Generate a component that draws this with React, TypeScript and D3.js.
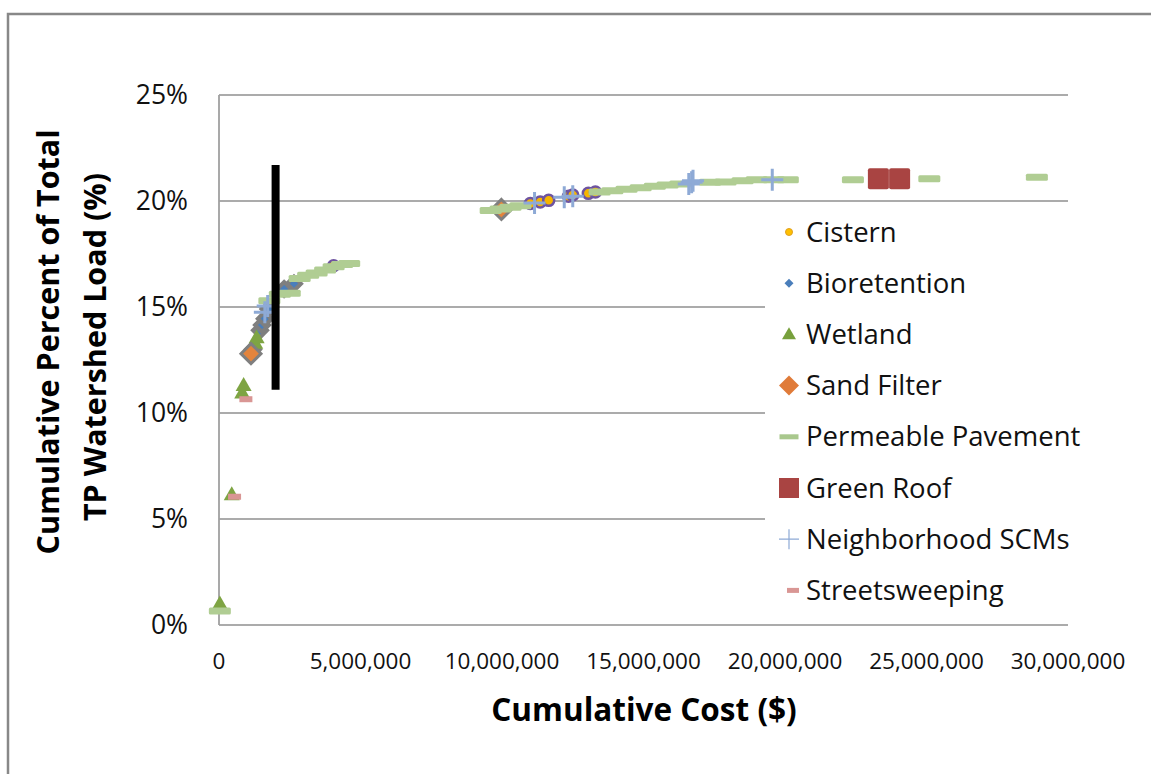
import React from 'react';
import * as d3 from 'd3';

// ---- data (x = cumulative cost $, y = cumulative % of total TP load) ----
const xTicks = [0, 5e6, 10e6, 15e6, 20e6, 25e6, 30e6];
const yTicks = [0, 5, 10, 15, 20, 25];

const cistern: [number, number][] = [
  [4.05e6, 16.95], [11.0e6, 19.88], [11.35e6, 19.95], [11.65e6, 20.03], [12.35e6, 20.22],
  [12.5e6, 20.28], [13.05e6, 20.36], [13.3e6, 20.42],
];
const bioretention: [number, number][] = [
  [1.2e6, 13.0], [1.45e6, 13.9], [1.52e6, 14.15], [1.62e6, 14.45], [1.75e6, 14.9],
  [2.3e6, 15.85], [2.65e6, 16.1],
];
const wetland: [number, number][] = [
  [0.03e6, 1.0], [0.45e6, 6.15], [0.82e6, 10.95], [0.87e6, 11.3], [1.28e6, 13.3], [1.33e6, 13.55],
];
const sandFilter: [number, number][] = [[1.13e6, 12.8], [9.98e6, 19.6]];
const permeablePavement: [number, number][] = [
  [0.03e6, 0.66], [1.78e6, 15.3], [2.15e6, 15.6], [2.5e6, 15.65], [2.85e6, 16.35], [3.15e6, 16.5],
  [3.45e6, 16.6], [3.75e6, 16.75], [4.05e6, 16.9], [4.35e6, 17.0], [4.6e6, 17.05],
  [9.6e6, 19.55], [9.95e6, 19.62], [10.3e6, 19.7], [10.65e6, 19.78], [13.45e6, 20.42],
  [13.9e6, 20.48], [14.4e6, 20.55], [14.9e6, 20.63], [15.4e6, 20.7], [15.85e6, 20.75],
  [16.3e6, 20.8], [17.35e6, 20.88], [17.9e6, 20.9], [18.5e6, 20.95], [19.0e6, 21.0],
  [19.6e6, 21.0], [20.1e6, 21.0], [22.4e6, 21.0], [25.1e6, 21.05], [28.9e6, 21.12],
];
const greenRoof: [number, number][] = [[23.3e6, 21.05], [24.05e6, 21.05]];
const neighborhoodSCMs: [number, number][] = [
  [1.62e6, 14.75], [1.72e6, 15.05], [11.15e6, 19.9], [12.2e6, 20.18], [12.5e6, 20.22],
  [16.6e6, 20.8], [16.7e6, 20.88], [16.75e6, 20.95], [19.55e6, 21.0],
];
const streetsweeping: [number, number][] = [[0.55e6, 6.05], [0.95e6, 10.65]];
const thresholdLine: [number, number][] = [[2.0e6, 11.1], [2.0e6, 21.7]];

const legendLabels = [
  'Cistern', 'Bioretention', 'Wetland', 'Sand Filter', 'Permeable Pavement',
  'Green Roof', 'Neighborhood SCMs', 'Streetsweeping',
];

const FONT = '"Open Sans", sans-serif';

function diamond(r: number) {
  return `M0,${-r}L${r},0L0,${r}L${-r},0Z`;
}
function triangle(w: number, h: number) {
  return `M0,${-h * 0.6}L${w / 2},${h * 0.4}L${-w / 2},${h * 0.4}Z`;
}

function Marker({ kind, legend }: { kind: string; legend?: boolean }) {
  switch (kind) {
    case 'Cistern':
      return legend
        ? <circle r={3.5} fill="#ffc000" stroke="#e0a020" strokeWidth={1} />
        : <circle r={5.5} fill="#f7b500" stroke="#6e54a0" strokeWidth={2.5} />;
    case 'Bioretention':
      return legend
        ? <path d={diamond(4.5)} fill="#4a7ebb" />
        : <path d={diamond(7)} fill="#4a7ebb" stroke="#7f7f7f" strokeWidth={4} />;
    case 'Wetland':
      return legend
        ? <path d={triangle(14, 12)} fill="#77a03c" />
        : <path d={triangle(16, 14)} fill="#7ea443" />;
    case 'Sand Filter':
      return legend
        ? <path d={diamond(10)} fill="#e07b39" />
        : <path d={diamond(10)} fill="#e3843d" stroke="#7f7f7f" strokeWidth={3} />;
    case 'Permeable Pavement':
      return legend
        ? <rect x={-9.5} y={-2.5} width={19} height={5} fill="#a9c88d" />
        : <rect x={-11} y={-3.5} width={22} height={7} rx={1.5} fill="#b0cd93" />;
    case 'Green Roof':
      return legend
        ? <rect x={-10} y={-10} width={20} height={20} fill="#a94442" />
        : <rect x={-10.5} y={-10.5} width={21} height={21} rx={2} fill="#a94442" />;
    case 'Neighborhood SCMs':
      return legend
        ? <path d="M-10,0H10M0,-10V10" stroke="#8eaad6" strokeWidth={1.2} />
        : <path d="M-11,0H11M0,-11V11" stroke="#8eaad6" strokeWidth={3} />;
    case 'Streetsweeping':
      return legend
        ? <rect x={-6} y={-2.5} width={12} height={5} fill="#d99694" />
        : <rect x={-6.5} y={-3} width={13} height={6} fill="#d99694" />;
    default:
      return null;
  }
}

export default function App() {
  const W = 1151, H = 774;
  const x = d3.scaleLinear().domain([0, 30e6]).range([219, 1068]);
  const y = d3.scaleLinear().domain([0, 25]).range([625, 95]);
  const fmt = d3.format(',');

  const series: [string, [number, number][]][] = [
    ['Cistern', cistern],
    ['Bioretention', bioretention],
    ['Wetland', wetland],
    ['Sand Filter', sandFilter],
    ['Permeable Pavement', permeablePavement],
    ['Green Roof', greenRoof],
    ['Neighborhood SCMs', neighborhoodSCMs],
    ['Streetsweeping', streetsweeping],
  ];

  const line = d3.line<[number, number]>().x(d => x(d[0])).y(d => y(d[1]));

  return (
    <svg width={W} height={H} style={{ position: 'absolute', left: 0, top: 0 }} fontFamily={FONT}>
      <rect x={0} y={0} width={W} height={H} fill="#fff" />
      <rect x={8} y={14} width={W + 20} height={H + 20} fill="#fff" stroke="#888" strokeWidth={2.5} />
      {/* gridlines */}
      {yTicks.map(t => (
        <line key={t} x1={x(0)} x2={x(30e6)} y1={y(t)} y2={y(t)} stroke="#8f8f8f" strokeWidth={1.5} />
      ))}
      <line x1={x(0)} x2={x(0)} y1={y(0)} y2={y(25)} stroke="#a0a0a0" strokeWidth={1.8} />
      {/* y tick labels */}
      {yTicks.map(t => (
        <text key={t} x={188} y={y(t)} dy="0.35em" textAnchor="end" fontSize={26.5} fill="#111">{t + '%'}</text>
      ))}
      {/* x tick labels */}
      {xTicks.map(t => (
        <text key={t} x={x(t)} y={661} dy="0.35em" textAnchor="middle" fontSize={22.5} fill="#111">{fmt(t)}</text>
      ))}
      {/* axis titles */}
      <text x={644} y={710} dy="0.35em" textAnchor="middle" fontSize={31.5} fontWeight="bold" fill="#000">Cumulative Cost ($)</text>
      <g transform="translate(48,342) rotate(-90)">
        <text x={0} y={0} dy="0.35em" textAnchor="middle" fontSize={30.5} fontWeight="bold" fill="#000">Cumulative Percent of Total</text>
      </g>
      <g transform="translate(95,347) rotate(-90)">
        <text x={0} y={0} dy="0.35em" textAnchor="middle" fontSize={30.5} fontWeight="bold" fill="#000">TP Watershed Load (%)</text>
      </g>
      {/* legend background */}
      <rect x={765} y={212} width={303} height={398} fill="#fff" />
      {/* series */}
      {series.map(([name, pts]) => (
        <g key={name}>
          {pts.map((p, i) => (
            <g key={i} transform={`translate(${x(p[0])},${y(p[1])})`}>
              <Marker kind={name} />
            </g>
          ))}
        </g>
      ))}
      <path d={line(thresholdLine) || ''} stroke="#000" strokeWidth={8} fill="none" />
      {/* legend */}
      {legendLabels.map((name, i) => {
        const cy = 232 + i * 51.2;
        return (
          <g key={name}>
            <g transform={`translate(${name === 'Streetsweeping' ? 793 : 789},${cy})`}>
              <Marker kind={name} legend />
            </g>
            <text x={806} y={cy} dy="0.35em" fontSize={27.5} fill="#111">{name}</text>
          </g>
        );
      })}
    </svg>
  );
}
